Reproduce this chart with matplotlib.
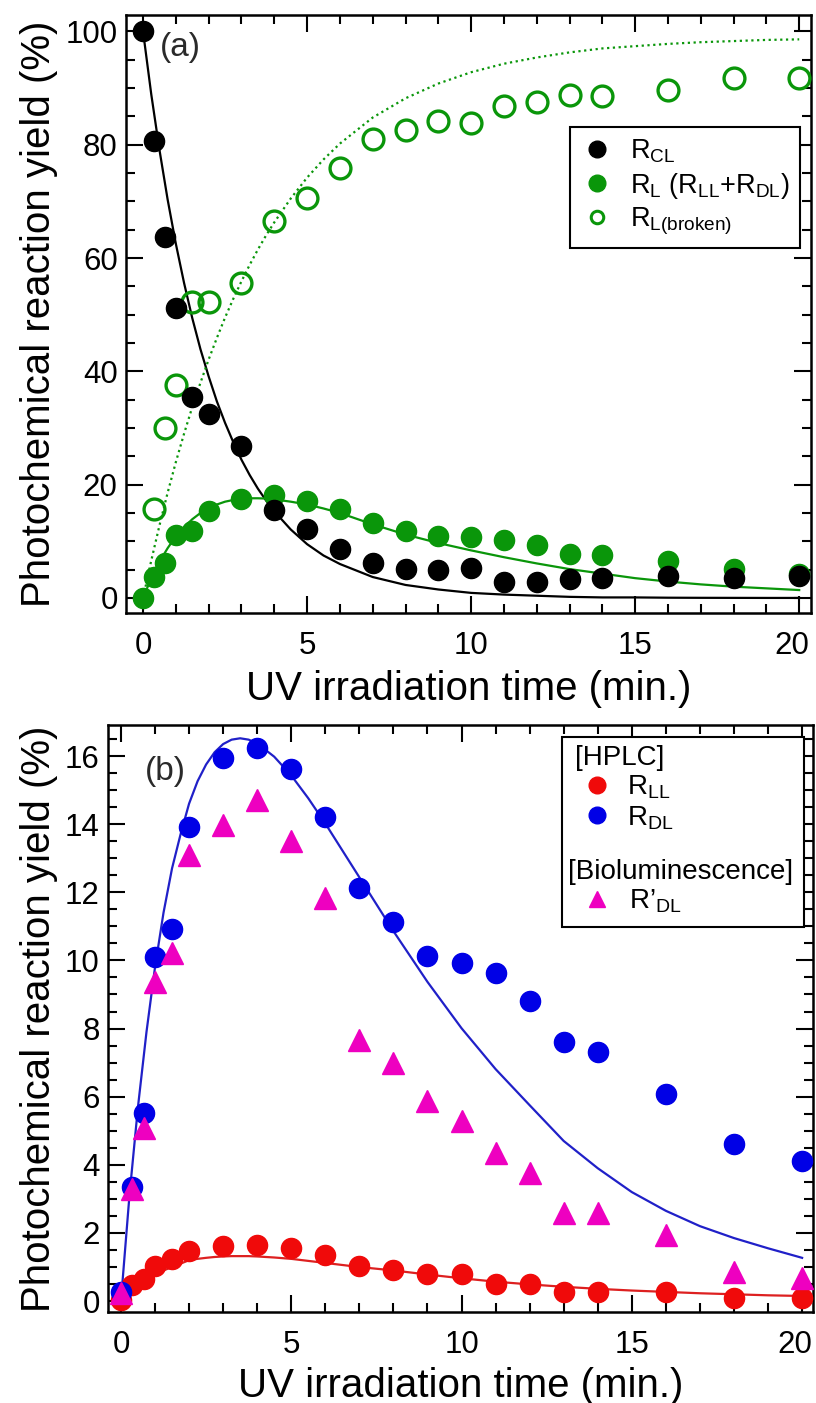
import matplotlib
matplotlib.use("Agg")
import matplotlib.pyplot as plt
import matplotlib.transforms as mtransforms
from matplotlib.lines import Line2D
from matplotlib.patches import Rectangle
from matplotlib.ticker import MultipleLocator
from matplotlib import font_manager

# ---------------- data ----------------
t = [0, 0.33, 0.67, 1, 1.5, 2, 3, 4, 5, 6, 7, 8, 9, 10, 11, 12, 13, 14, 16, 18, 20]

# panel (a)
R_CL = [100, 80.6, 63.8, 51.2, 35.5, 32.5, 26.9, 15.5, 12.1, 8.6, 6.2, 5.1, 4.9,
        5.3, 2.9, 2.9, 3.4, 3.5, 3.8, 3.5, 3.9]
R_L = [0, 3.7, 6.2, 11.2, 11.9, 15.3, 17.5, 18.1, 17.1, 15.7, 13.2, 11.9, 11.0,
       10.8, 10.2, 9.3, 7.8, 7.6, 6.6, 5.2, 4.3]
t_broken = [0.33, 0.67, 1, 1.5, 2, 3, 4, 5, 6, 7, 8, 9, 10, 11, 12, 13, 14, 16, 18, 20]
R_L_broken = [15.7, 30.0, 37.6, 52.2, 52.2, 55.6, 66.6, 70.6, 75.9, 81.0, 82.6, 84.2,
              83.9, 86.8, 87.6, 88.8, 88.6, 89.6, 91.7, 91.7]

# panel (b)
R_LL = [0.03, 0.47, 0.64, 1.03, 1.25, 1.48, 1.62, 1.64, 1.55, 1.35, 1.04, 0.9, 0.81,
        0.79, 0.5, 0.5, 0.27, 0.27, 0.27, 0.1, 0.1]
R_DL = [0.27, 3.36, 5.53, 10.09, 10.92, 13.93, 15.93, 16.23, 15.62, 14.22, 12.12,
        11.14, 10.14, 9.92, 9.64, 8.81, 7.60, 7.32, 6.08, 4.60, 4.10]
R_DL_bio = [0.25, 3.28, 5.07, 9.38, 10.21, 13.1, 13.98, 14.71, 13.51, 11.82, 7.65,
            7.0, 5.87, 5.28, 4.34, 3.76, 2.59, 2.59, 1.95, 0.85, 0.67]

# fitted curves
fit_t = [0, 0.25, 0.5, 0.75, 1, 1.25, 1.5, 1.75, 2, 2.25, 2.5, 2.75, 3, 3.25, 3.5,
         3.75, 4, 4.5, 5, 5.5, 6, 7, 8, 9, 10, 11, 12, 13, 14, 15, 16, 17, 18, 19, 20]
fit_CL = [100, 88.9, 79.1, 70.3, 62.5, 55.6, 49.4, 43.9, 39.1, 34.7, 30.9, 27.5, 24.4,
          21.7, 19.3, 17.2, 15.3, 12.1, 9.5, 7.5, 6.0, 3.7, 2.3, 1.5, 0.9, 0.6, 0.4,
          0.2, 0.1, 0.1, 0.05, 0.03, 0.02, 0.01, 0.01]
fit_L = [0, 3.5, 6.4, 8.8, 10.9, 12.5, 13.9, 15.0, 15.8, 16.5, 17.0, 17.3, 17.5, 17.6,
         17.6, 17.55, 17.4, 17.0, 16.5, 15.8, 15.0, 13.0, 11.2, 9.7, 8.4, 7.2, 6.1,
         5.1, 4.3, 3.5, 2.9, 2.4, 2.0, 1.7, 1.4]
fit_broken = [0, 6.6, 12.8, 18.6, 24.0, 29.0, 33.7, 38.0, 42.1, 45.9, 49.5, 52.8, 55.9,
              58.8, 61.5, 64.0, 66.3, 70.5, 74.2, 77.4, 80.2, 84.8, 88.2, 90.8, 92.8,
              94.3, 95.4, 96.3, 97.0, 97.4, 97.8, 98.1, 98.3, 98.5, 98.6]
fit_DL = [0, 3.1, 5.7, 7.9, 9.8, 11.4, 12.7, 13.7, 14.6, 15.26, 15.75, 16.11, 16.35,
          16.48, 16.52, 16.48, 16.37, 15.98, 15.43, 14.76, 14.02, 12.44, 10.86, 9.37,
          8.01, 6.81, 5.75, 4.7, 3.9, 3.2, 2.65, 2.2, 1.85, 1.55, 1.27]
fit_LL = [0, 0.24, 0.45, 0.62, 0.77, 0.9, 1.0, 1.1, 1.2, 1.24, 1.27, 1.295, 1.31, 1.32,
          1.32, 1.32, 1.31, 1.28, 1.24, 1.18, 1.12, 1.0, 0.9, 0.78, 0.67, 0.57, 0.49,
          0.42, 0.36, 0.31, 0.27, 0.23, 0.2, 0.17, 0.15]

xticks = [0, 5, 10, 15, 20]
yticks_a = [0, 20, 40, 60, 80, 100]
yticks_b = [0, 2, 4, 6, 8, 10, 12, 14, 16]

# ---------------- style ----------------
names = {f.name for f in font_manager.fontManager.ttflist}
TICKFAM = "Liberation Sans Narrow" if "Liberation Sans Narrow" in names else "Liberation Sans"
TICKSIZE = 25 if TICKFAM == "Liberation Sans Narrow" else 22.5
plt.rcParams["font.family"] = ["Liberation Sans", "DejaVu Sans"]
plt.rcParams["mathtext.fontset"] = "custom"
plt.rcParams["mathtext.rm"] = "Liberation Sans"
plt.rcParams["mathtext.it"] = "Liberation Sans:italic"
plt.rcParams["mathtext.bf"] = "Liberation Sans:bold"

GREEN = "#0a960a"
BLUE = "#0000e6"
RED = "#f00a0a"
MAG = "#ee00c0"
BLUE_LINE = "#2020c8"
RED_LINE = "#dd2020"

fig = plt.figure(figsize=(8.16, 14.03), dpi=100)
ax1 = fig.add_axes([126 / 816, 1 - 613 / 1403, 685 / 816, 598 / 1403])
ax2 = fig.add_axes([108 / 816, 1 - 1312 / 1403, 705 / 816, 587 / 1403])


def style(ax, ymin, yticks):
    ax.set_xticks(xticks)
    ax.set_yticks(yticks)
    ax.xaxis.set_minor_locator(MultipleLocator(1))
    ax.yaxis.set_minor_locator(MultipleLocator(ymin))
    ax.tick_params(which="both", direction="in", top=True, right=True, width=1.5)
    ax.tick_params(which="major", length=12)
    ax.tick_params(which="minor", length=6.5)
    ax.tick_params(axis="x", pad=13, labelsize=TICKSIZE, labelfontfamily=TICKFAM)
    ax.tick_params(axis="y", pad=6, labelsize=TICKSIZE, labelfontfamily=TICKFAM)
    for s in ax.spines.values():
        s.set_linewidth(1.8)


# ---------------- panel (a) ----------------
ax1.plot(fit_t, fit_CL, color="black", lw=1.6, zorder=2)
ax1.plot(fit_t, fit_L, color=GREEN, lw=1.6, zorder=2)
ax1.plot(fit_t, fit_broken, color=GREEN, lw=1.6, ls=(0, (1, 1.6)), zorder=2)
ax1.plot(t_broken, R_L_broken, ls="none", marker="o", ms=15, mfc="none", mec=GREEN,
         mew=2.4, zorder=3)
ax1.plot(t, R_L, ls="none", marker="o", ms=14.5, color=GREEN, zorder=4)
ax1.plot(t, R_CL, ls="none", marker="o", ms=14.5, color="black", zorder=5)

ax1.set_xlim(-0.52, 20.36)
ax1.set_ylim(-2.65, 102.9)
style(ax1, 5, yticks_a)
ax1.set_ylabel("Photochemical reaction yield (%)", fontsize=29)
ax1.set_xlabel("UV irradiation time (min.)", fontsize=29, va="top")
ax1.yaxis.set_label_coords(-0.099, 0.5)
ax1.xaxis.set_label_coords(0.5, -0.095)
ax1.text(0.05, 0.946, "(a)", transform=ax1.transAxes, fontsize=24, va="center",
         ha="left", color="#2a2a2a")

h1 = Line2D([], [], ls="none", marker="o", color="black", ms=12)
h2 = Line2D([], [], ls="none", marker="o", color=GREEN, ms=12)
h3 = Line2D([], [], ls="none", marker="o", mfc="none", mec=GREEN, mew=2.2, ms=9)
leg = ax1.legend([h1, h2, h3],
                 [r"R$_{\rm CL}$", r"R$_{\rm L}$ (R$_{\rm LL}$+R$_{\rm DL}$)",
                  r"R$_{\rm L(broken)}$"],
                 loc="upper right", bbox_to_anchor=(0.984, 0.813), borderaxespad=0,
                 fontsize=19.5, frameon=True, fancybox=False, edgecolor="black",
                 framealpha=1, handlelength=1.2, handletextpad=0.6, labelspacing=0.2,
                 borderpad=0.4)
leg.get_frame().set_linewidth(1.5)

# ---------------- panel (b) ----------------
ax2.plot(fit_t, fit_DL, color=BLUE_LINE, lw=1.6, zorder=2)
ax2.plot(fit_t, fit_LL, color=RED_LINE, lw=1.6, zorder=2)
ax2.plot(t, R_LL, ls="none", marker="o", ms=14.5, color=RED, zorder=3)
ax2.plot(t, R_DL, ls="none", marker="o", ms=14.5, color=BLUE, zorder=4)
ax2.plot(t, R_DL_bio, ls="none", marker="^", ms=15.5, color=MAG, zorder=5)

ax2.set_xlim(-0.38, 20.32)
ax2.set_ylim(-0.32, 16.91)
style(ax2, 0.5, yticks_b)
ax2.set_ylabel("Photochemical reaction yield (%)", fontsize=29)
ax2.set_xlabel("UV irradiation time (min.)", fontsize=29, va="top")
ax2.yaxis.set_label_coords(-0.071, 0.5)
ax2.xaxis.set_label_coords(0.5, -0.094)
ax2.text(0.052, 0.92, "(b)", transform=ax2.transAxes, fontsize=24, va="center",
         ha="left", color="#2a2a2a")

ax2.add_patch(Rectangle((0.644, 0.656), 0.343, 0.324, transform=ax2.transAxes,
                        facecolor="white", edgecolor="black", lw=1.5, zorder=6))
hLL = Line2D([], [], ls="none", marker="o", color=RED, ms=12)
hDL = Line2D([], [], ls="none", marker="o", color=BLUE, ms=12)
hBio = Line2D([], [], ls="none", marker="^", color=MAG, ms=12)
legA = ax2.legend([hLL, hDL], [r"R$_{\rm LL}$", r"R$_{\rm DL}$"], title="[HPLC]",
                  title_fontsize=20, fontsize=20, alignment="left", loc="upper left",
                  bbox_to_anchor=(0.662, 0.966), frameon=False, handlelength=1.6,
                  handletextpad=0.3, labelspacing=0.1, borderpad=0, borderaxespad=0)
legA.set_zorder(7)
ax2.add_artist(legA)
legB = ax2.legend([hBio], [r"R’$_{\rm DL}$"], title="[Bioluminescence]",
                  title_fontsize=20, fontsize=20, alignment="left", loc="upper left",
                  bbox_to_anchor=(0.652, 0.772), frameon=False, handlelength=2.1,
                  handletextpad=0.1, labelspacing=0.1, borderpad=0, borderaxespad=0)
legB.set_zorder(7)

# keep the last x tick label ("20") inside the canvas, as in the reference
fig.canvas.draw()
for ax in (ax1, ax2):
    lab = ax.get_xticklabels()[-1]
    lab.set_transform(lab.get_transform() +
                      mtransforms.ScaledTranslation(-5 / 72, 0, fig.dpi_scale_trans))

fig.savefig("out.png", dpi=100)
